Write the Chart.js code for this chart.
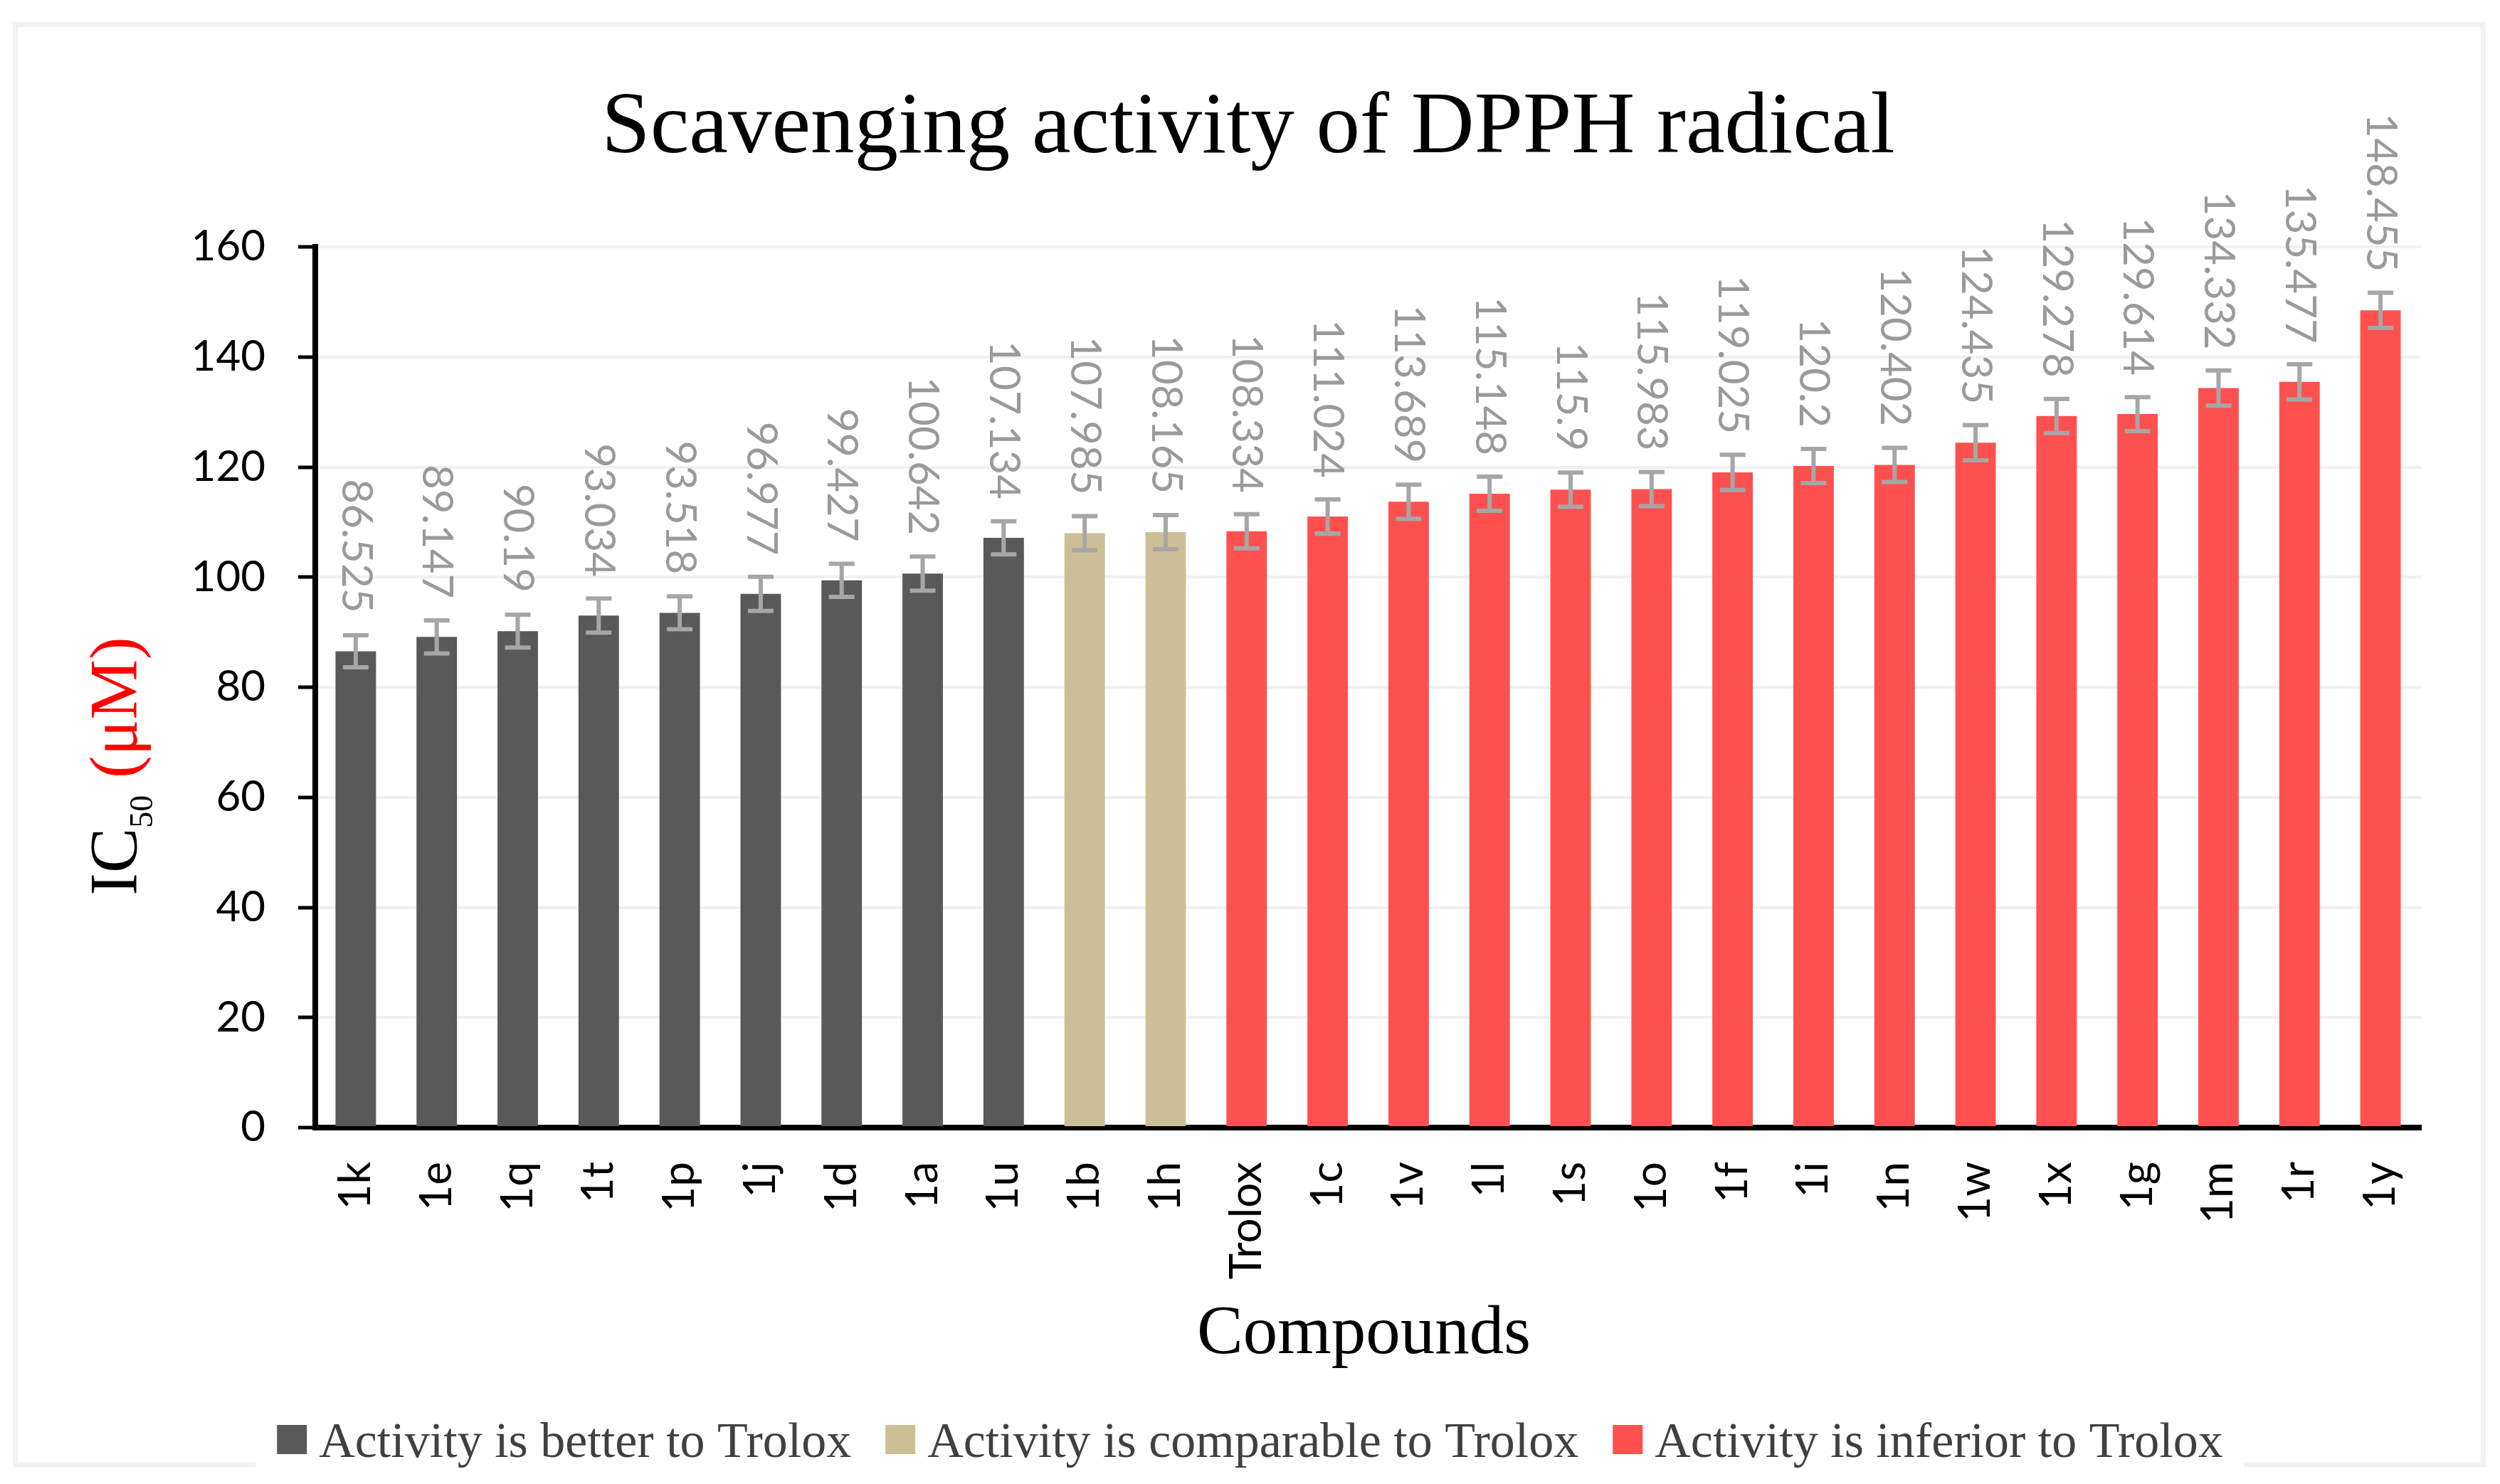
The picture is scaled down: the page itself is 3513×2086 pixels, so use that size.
<!DOCTYPE html>
<html>
<head>
<meta charset="utf-8">
<script src="https://cdn.jsdelivr.net/npm/chart.js@4.4.1/dist/chart.umd.min.js"></script>
<style>
  html, body { margin: 0; padding: 0; background: #fff; }
  canvas { display: block; }
</style>
</head>
<body>
<canvas id="chart" width="3513" height="2086"></canvas>
<script>
// --- Data ---
const compounds = ["1k", "1e", "1q", "1t", "1p", "1j", "1d", "1a", "1u", "1b", "1h", "Trolox",
  "1c", "1v", "1l", "1s", "1o", "1f", "1i", "1n", "1w", "1x", "1g", "1m", "1r", "1y"];
const ic50 = [86.525, 89.147, 90.19, 93.034, 93.518, 96.977, 99.427, 100.642, 107.134, 107.985,
  108.165, 108.334, 111.024, 113.689, 115.148, 115.9, 115.983, 119.025, 120.2, 120.402,
  124.435, 129.278, 129.614, 134.332, 135.477, 148.455];
const ic50Err = [2.9, 3.0, 3.0, 3.1, 3.0, 3.1, 3.0, 3.1, 3.0, 3.1, 3.1, 3.1, 3.1,
  3.1, 3.1, 3.1, 3.1, 3.2, 3.1, 3.1, 3.2, 3.1, 3.1, 3.2, 3.2, 3.2];
// 0 = better, 1 = comparable, 2 = inferior
const activityGroup = [0, 0, 0, 0, 0, 0, 0, 0, 0, 1, 1, 2, 2, 2, 2, 2, 2, 2, 2, 2, 2, 2, 2, 2, 2, 2];
const groupNames = ["Activity is better to Trolox", "Activity is comparable to Trolox", "Activity is inferior to Trolox"];
const groupColors = ["#595959", "#CCBF97", "#FF5050"];
const yTickValues = [0, 20, 40, 60, 80, 100, 120, 140, 160];

const SERIF = '"Liberation Serif", "Times New Roman", serif';
const SANS = 'Lato, "DejaVu Sans", sans-serif';

// --- Extra drawing: frame, error bars, value labels, titles, legend ---
const decorations = {
  id: "decorations",
  beforeDraw(chart) {
    const ctx = chart.ctx;
    ctx.save();
    ctx.fillStyle = "#fff";
    ctx.fillRect(0, 0, chart.width, chart.height);
    ctx.strokeStyle = "#f2f2f2";
    ctx.lineWidth = 7;
    ctx.strokeRect(21.5, 34.5, 3468, 2024.5);
    ctx.restore();
  },
  afterDatasetsDraw(chart) {
    const ctx = chart.ctx;
    const yScale = chart.scales.y;
    const meta = chart.getDatasetMeta(0);
    ctx.save();
    meta.data.forEach((bar, i) => {
      const top = yScale.getPixelForValue(ic50[i] + ic50Err[i]);
      const bot = yScale.getPixelForValue(ic50[i] - ic50Err[i]);
      ctx.strokeStyle = "#a6a6a6";
      ctx.lineWidth = 6;
      ctx.beginPath();
      ctx.moveTo(bar.x, top); ctx.lineTo(bar.x, bot);
      ctx.moveTo(bar.x - 18, top); ctx.lineTo(bar.x + 18, top);
      ctx.moveTo(bar.x - 18, bot); ctx.lineTo(bar.x + 18, bot);
      ctx.stroke();

      ctx.save();
      ctx.translate(bar.x, bar.y - 54);
      ctx.rotate(Math.PI / 2);
      ctx.fillStyle = "#9a9a9a";
      ctx.font = "60px " + SANS;
      ctx.textAlign = "right";
      ctx.textBaseline = "middle";
      ctx.fillText(String(ic50[i]), 0, 0);
      ctx.restore();
    });
    ctx.restore();
  },
  afterDraw(chart) {
    const ctx = chart.ctx;
    const area = chart.chartArea;
    ctx.save();

    // title
    ctx.fillStyle = "#000";
    ctx.font = "123px " + SERIF;
    ctx.textAlign = "center";
    ctx.textBaseline = "alphabetic";
    ctx.fillText("Scavenging activity of DPPH radical", 1754, 214);

    // x axis title
    ctx.font = "97px " + SERIF;
    ctx.fillText("Compounds", (area.left + area.right) / 2 - 6, 1902);

    // y axis title: IC50 (μM)
    ctx.save();
    ctx.translate(192, 1077);
    ctx.rotate(-Math.PI / 2);
    ctx.textAlign = "left";
    const mainFont = "95px " + SERIF;
    const subFont = "46px " + SERIF;
    ctx.font = mainFont;
    const wIC = ctx.measureText("IC").width;
    const wSp = ctx.measureText(" ").width;
    const wUnit = ctx.measureText("(μM)").width;
    ctx.font = subFont;
    const w50 = ctx.measureText("50").width;
    let x = -(wIC + w50 + wSp + wUnit) / 2;
    ctx.font = mainFont;
    ctx.fillStyle = "#000";
    ctx.fillText("IC", x, 0);
    x += wIC;
    ctx.font = subFont;
    ctx.fillText("50", x, 22);
    x += w50 + wSp;
    ctx.font = mainFont;
    ctx.fillStyle = "#ff0000";
    ctx.fillText("(μM)", x, 0);
    ctx.restore();

    // legend
    ctx.font = "70px " + SERIF;
    const box = 42, boxGap = 17, itemGap = 48;
    const widths = groupNames.map((n) => ctx.measureText(n).width);
    const total = widths.reduce((a, w) => a + box + boxGap + w, 0) + itemGap * (groupNames.length - 1);
    let lx = chart.width / 2 - total / 2;
    ctx.fillStyle = "#fff";
    ctx.fillRect(lx - 30, 2048, total + 60, 22);
    ctx.textAlign = "left";
    groupNames.forEach((name, i) => {
      ctx.fillStyle = groupColors[i];
      ctx.fillRect(lx, 2003, box, 41);
      ctx.fillStyle = "#404040";
      ctx.fillText(name, lx + box + boxGap, 2048);
      lx += box + boxGap + widths[i] + itemGap;
    });

    ctx.restore();
  },
};

// --- Chart ---
const ctx = document.getElementById("chart").getContext("2d");
new Chart(ctx, {
  type: "bar",
  data: {
    labels: compounds,
    datasets: [
      {
        label: "IC50",
        data: ic50,
        backgroundColor: activityGroup.map((g) => groupColors[g]),
        barPercentage: 0.5,
        categoryPercentage: 1.0,
      },
    ],
  },
  options: {
    responsive: false,
    devicePixelRatio: 1,
    animation: false,
    layout: { padding: { top: 347, right: 111, bottom: 201, left: 0 } },
    plugins: {
      legend: { display: false },
      title: { display: false },
      tooltip: { enabled: false },
    },
    scales: {
      x: {
        z: 1,
        afterFit: (scale) => { scale.height = 300; },
        grid: { display: false, drawTicks: false },
        border: { display: true, color: "#000", width: 8 },
        ticks: {
          autoSkip: false,
          minRotation: 90,
          maxRotation: 90,
          padding: 48,
          color: "#000",
          font: { family: SANS, size: 62 },
        },
      },
      y: {
        min: 0,
        max: 160,
        afterFit: (scale) => { scale.width = 443; },
        afterBuildTicks: (scale) => { scale.ticks = yTickValues.map((v) => ({ value: v })); },
        grid: {
          color: "#f0f0f0",
          lineWidth: 4,
          tickColor: "#000",
          tickWidth: 5,
          tickLength: 24,
        },
        border: { display: true, color: "#000", width: 8 },
        ticks: {
          padding: 46,
          color: "#000",
          font: { family: SANS, size: 60 },
        },
      },
    },
  },
  plugins: [decorations],
});
</script>
</body>
</html>
